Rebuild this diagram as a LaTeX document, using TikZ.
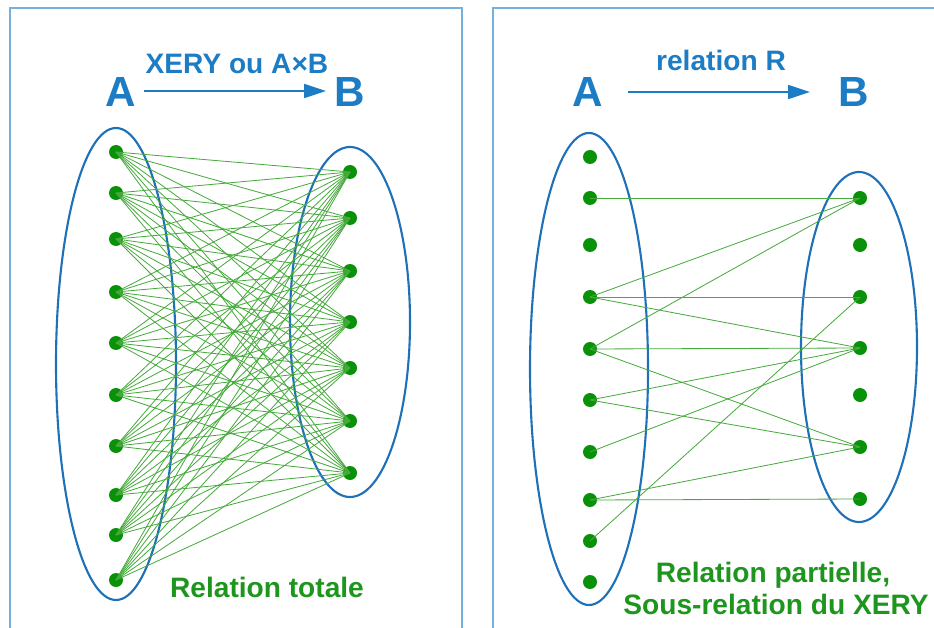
\documentclass[tikz,border=0pt]{standalone}
\usepackage{fontspec}
\newfontfamily\labelfont{Liberation Sans}
\usetikzlibrary{arrows.meta}
\definecolor{framecol}{RGB}{120,176,220}
\definecolor{setcol}{RGB}{30,112,184}
\definecolor{titlecol}{RGB}{28,124,196}
\definecolor{dotcol}{RGB}{10,145,10}
\definecolor{relcol}{RGB}{70,170,60}
\definecolor{textcol}{RGB}{30,150,30}

\begin{document}
\begin{tikzpicture}[x=0.03cm, y=-0.03cm, every node/.style={inner sep=0pt}]
  \tikzset{pt/.style={circle, inner sep=0pt, minimum size=4.2mm, fill=dotcol}}
  \tikzset{set/.style={draw=setcol, line width=1.8pt}}
  \tikzset{frame/.style={draw=framecol, line width=1.3pt}}
  \tikzset{rel/.style={draw=relcol, line width=0.7pt}}
  \tikzset{map/.style={draw=titlecol, line width=1.5pt, -{Triangle[length=6.6mm, width=4.2mm]}}}
  \tikzset{bigset/.style={text=titlecol, font=\labelfont\bfseries\fontsize{36}{40}\selectfont, anchor=base}}
  \tikzset{maplabel/.style={text=titlecol, font=\labelfont\bfseries\fontsize{24}{28}\selectfont, anchor=base}}
  \tikzset{caption/.style={text=textcol, font=\labelfont\bfseries\fontsize{24}{28}\selectfont, anchor=base}}
  \useasboundingbox (0,0) rectangle (934,628);
  % panels
  \draw[frame] (10,628) -- (10,8) -- (462,8) -- (462,628);
  \draw[frame] (493,628) -- (493,8) -- (934,8);
  % left panel: A x B
  \node[bigset] (lA) at (121,107) {A};
  \node[bigset] (lB) at (350,107) {B};
  \coordinate (ls) at (144,91);
  \coordinate (le) at (326,91);
  \draw[map] (ls) -- (le);
  \node[maplabel] (lmap) at (237,74) {XERY ou A×B};
  \draw[set] (116,364) ellipse [x radius=60, y radius=236];
  \draw[set] (350,322) ellipse [x radius=60, y radius=175];
  \node[pt] (la0) at (116,152) {};
  \node[pt] (la1) at (116,193) {};
  \node[pt] (la2) at (116,239) {};
  \node[pt] (la3) at (116,292) {};
  \node[pt] (la4) at (116,343) {};
  \node[pt] (la5) at (116,395) {};
  \node[pt] (la6) at (116,446) {};
  \node[pt] (la7) at (116,495) {};
  \node[pt] (la8) at (116,535) {};
  \node[pt] (la9) at (116,580) {};
  \node[pt] (lb0) at (350,172) {};
  \node[pt] (lb1) at (350,218) {};
  \node[pt] (lb2) at (350,271) {};
  \node[pt] (lb3) at (350,322) {};
  \node[pt] (lb4) at (350,368) {};
  \node[pt] (lb5) at (350,421) {};
  \node[pt] (lb6) at (350,473) {};
  % every pair
  \foreach \i in {0,...,9}
    \foreach \j in {0,...,6}
      \draw[rel] (la\i.center) -- (lb\j.center);
  \node[caption] (ltext) at (267,597) {Relation totale};
  % right panel: relation R
  \node[bigset] (rA) at (588,107) {A};
  \node[bigset] (rB) at (854,107) {B};
  \coordinate (rs) at (628,92);
  \coordinate (re) at (810,92);
  \draw[map] (rs) -- (re);
  \node[maplabel] (rmap) at (721,71) {relation R};
  \draw[set] (589,369) ellipse [x radius=59, y radius=236];
  \draw[set] (859,347) ellipse [x radius=58, y radius=175];
  \node[pt] (ra0) at (590,157) {};
  \node[pt] (ra1) at (590,198) {};
  \node[pt] (ra2) at (590,245) {};
  \node[pt] (ra3) at (590,297) {};
  \node[pt] (ra4) at (590,349) {};
  \node[pt] (ra5) at (590,400) {};
  \node[pt] (ra6) at (590,452) {};
  \node[pt] (ra7) at (590,500) {};
  \node[pt] (ra8) at (590,541) {};
  \node[pt] (ra9) at (590,582) {};
  \node[pt] (rb0) at (860,198) {};
  \node[pt] (rb1) at (860,245) {};
  \node[pt] (rb2) at (860,297) {};
  \node[pt] (rb3) at (860,348) {};
  \node[pt] (rb4) at (860,395) {};
  \node[pt] (rb5) at (860,447) {};
  \node[pt] (rb6) at (860,499) {};
  % pairs of R
  \draw[rel] (ra1.center) -- (rb0.center);
  \draw[rel] (ra3.center) -- (rb0.center);
  \draw[rel] (ra3.center) -- (rb2.center);
  \draw[rel] (ra3.center) -- (rb3.center);
  \draw[rel] (ra4.center) -- (rb0.center);
  \draw[rel] (ra4.center) -- (rb3.center);
  \draw[rel] (ra4.center) -- (rb5.center);
  \draw[rel] (ra5.center) -- (rb3.center);
  \draw[rel] (ra5.center) -- (rb5.center);
  \draw[rel] (ra6.center) -- (rb3.center);
  \draw[rel] (ra7.center) -- (rb5.center);
  \draw[rel] (ra7.center) -- (rb6.center);
  \draw[rel] (ra8.center) -- (rb2.center);
  \node[caption] (rtext1) at (773,582) {Relation partielle,};
  \node[caption] (rtext2) at (776,614) {Sous-relation du XERY};
\end{tikzpicture}
\end{document}
